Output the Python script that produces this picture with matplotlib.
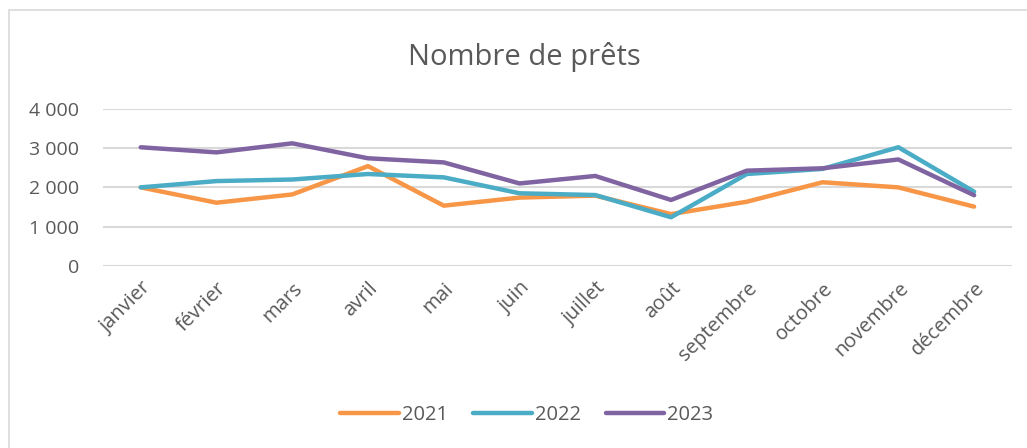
import matplotlib.pyplot as plt
from matplotlib.lines import Line2D
from matplotlib.ticker import FuncFormatter

# ----------------------------------
# Data
# ----------------------------------
months = ["janvier", "février", "mars", "avril", "mai", "juin",
          "juillet", "août", "septembre", "octobre", "novembre", "décembre"]
prets_2021 = [2000, 1610, 1820, 2540, 1535, 1740, 1790, 1320, 1635, 2130, 2000, 1510]
prets_2022 = [2000, 2160, 2200, 2340, 2255, 1850, 1805, 1240, 2340, 2470, 3020, 1890]
prets_2023 = [3020, 2890, 3120, 2740, 2635, 2100, 2290, 1680, 2425, 2485, 2710, 1800]
years = ["2021", "2022", "2023"]
colors = ["#F79646", "#4BACC6", "#8064A2"]

plt.rcParams["font.family"] = ["Open Sans", "DejaVu Sans"]
text_color = "#595959"

fig = plt.figure(figsize=(10.27, 4.48), dpi=100)
ax = fig.add_axes([0.1001, 0.4062, 0.8853, 0.3511])

x = range(len(months))
for vals, c, lab in zip([prets_2021, prets_2022, prets_2023], colors, years):
    ax.plot(x, vals, color=c, lw=3.2, label=lab, solid_capstyle="round",
            solid_joinstyle="round", clip_on=False)

ax.set_xlim(-0.5, len(months) - 0.5)
ax.set_ylim(0, 4000)
ax.set_yticks([0, 1000, 2000, 3000, 4000])
ax.yaxis.set_major_formatter(FuncFormatter(lambda v, p: f"{int(v):,}".replace(",", " ")))
ax.grid(axis="y", color="#D9D9D9", lw=1.5)
ax.set_axisbelow(True)
for s in ax.spines.values():
    s.set_visible(False)
ax.tick_params(axis="y", length=0, pad=17, labelsize=14, labelcolor=text_color)
ax.tick_params(axis="x", length=0, pad=9, labelsize=14.5, labelcolor=text_color)
ax.set_xticks(list(x))
ax.set_xticklabels(months, rotation=45, ha="right", rotation_mode="anchor")

fig.text(0.511, 0.872, "Nombre de prêts", ha="center", va="center",
         fontsize=21, color=text_color)

handles = [Line2D([0], [0], color=c, lw=3.2, solid_capstyle="round") for c in colors]
fig.legend(handles, years, loc="center", bbox_to_anchor=(0.513, 0.073), ncol=3,
           frameon=False, fontsize=14.5, labelcolor=text_color, handlelength=2.9,
           handletextpad=0.15, columnspacing=1.25)

# chart border (left and top only visible)
fig.add_artist(plt.Rectangle((9 / 1027, -0.1), 1.2, 1 - 10 / 448 + 0.1,
                             transform=fig.transFigure, fill=False,
                             edgecolor="#D9D9D9", lw=1.2))

plt.savefig("out.png", dpi=100)
